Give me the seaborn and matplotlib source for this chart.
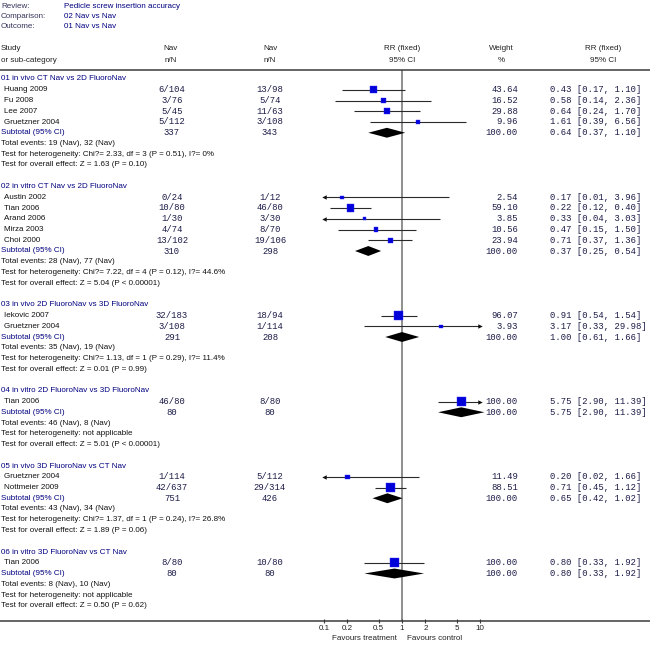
import numpy as np
import pandas as pd
import matplotlib
matplotlib.use("Agg")
import matplotlib.pyplot as plt
import matplotlib.transforms as mtransforms
import seaborn as sns

# ---------------- data ----------------
group_titles = [
    "01 in vivo CT Nav vs 2D FluoroNav",
    "02 in vitro CT Nav vs 2D FluoroNav",
    "03 in vivo 2D FluoroNav vs 3D FluoroNav",
    "04 in vitro 2D FluoroNav vs 3D FluoroNav",
    "05 in vivo 3D FluoroNav vs CT Nav",
    "06 in vitro 3D FluoroNav vs CT Nav",
]
study_names = ["Huang 2009", "Fu 2008", "Lee 2007", "Gruetzner 2004",
               "Austin 2002", "Tian 2006", "Arand 2006", "Mirza 2003", "Choi 2000",
               "Iekovic 2007", "Gruetzner 2004",
               "Tian 2006",
               "Gruetzner 2004", "Nottmeier 2009",
               "Tian 2006"]
study_group = [0, 0, 0, 0, 1, 1, 1, 1, 1, 2, 2, 3, 4, 4, 5]
events_1 = [6, 3, 5, 5, 0, 10, 1, 4, 13, 32, 3, 46, 1, 42, 8]
totals_1 = [104, 76, 45, 112, 24, 80, 30, 74, 102, 183, 108, 80, 114, 637, 80]
events_2 = [13, 5, 11, 3, 1, 46, 3, 8, 19, 18, 1, 8, 5, 29, 10]
totals_2 = [98, 74, 63, 108, 12, 80, 30, 70, 106, 94, 114, 80, 112, 314, 80]
weights = [43.64, 16.52, 29.88, 9.96, 2.54, 59.10, 3.85, 10.56, 23.94,
           96.07, 3.93, 100.00, 11.49, 88.51, 100.00]
rr = [0.43, 0.58, 0.64, 1.61, 0.17, 0.22, 0.33, 0.47, 0.71, 0.91, 3.17, 5.75, 0.20, 0.71, 0.80]
rr_lo = [0.17, 0.14, 0.24, 0.39, 0.01, 0.12, 0.04, 0.15, 0.37, 0.54, 0.33, 2.90, 0.02, 0.45, 0.33]
rr_hi = [1.10, 2.36, 1.70, 6.56, 3.96, 0.40, 3.03, 1.50, 1.36, 1.54, 29.98, 11.39, 1.66, 1.12, 1.92]

sub_n1 = [337, 310, 291, 80, 751, 80]
sub_n2 = [343, 298, 208, 80, 426, 80]
sub_rr = [0.64, 0.37, 1.00, 5.75, 0.65, 0.80]
sub_lo = [0.37, 0.25, 0.61, 2.90, 0.42, 0.33]
sub_hi = [1.10, 0.54, 1.66, 11.39, 1.02, 1.92]
sub_ev1 = [19, 28, 35, 46, 43, 8]
sub_ev2 = [32, 77, 19, 8, 34, 10]
het_text = ["Chi?= 2.33, df = 3 (P = 0.51), I?= 0%",
            "Chi?= 7.22, df = 4 (P = 0.12), I?= 44.6%",
            "Chi?= 1.13, df = 1 (P = 0.29), I?= 11.4%",
            "not applicable",
            "Chi?= 1.37, df = 1 (P = 0.24), I?= 26.8%",
            "not applicable"]
overall_text = ["Z = 1.63 (P = 0.10)", "Z = 5.04 (P < 0.00001)", "Z = 0.01 (P = 0.99)",
                "Z = 5.01 (P < 0.00001)", "Z = 1.89 (P = 0.06)", "Z = 0.50 (P = 0.62)"]

x_ticks = [0.1, 0.2, 0.5, 1, 2, 5, 10]
x_tick_labels = ["0.1", "0.2", "0.5", "1", "2", "5", "10"]

# ---------------- layout of rows ----------------
rows = []  # (kind, index, row)
r = 0
study_rows = [0] * len(study_names)
sub_rows = [0] * len(group_titles)
header_rows = [0] * len(group_titles)
text_rows = [[0, 0, 0] for _ in group_titles]
for g in range(len(group_titles)):
    header_rows[g] = r
    r += 1
    for i, sg in enumerate(study_group):
        if sg == g:
            study_rows[i] = r
            r += 1
    sub_rows[g] = r
    r += 1
    for k in range(3):
        text_rows[g][k] = r
        r += 1
    r += 1  # blank line

W, H = 650, 645
SANS = "Liberation Sans"
MONO = "Liberation Mono"
FS = 5.8
FM = 6.4
NAVY = "#000080"
NUMC = "#1c1c48"

fig = plt.figure(figsize=(6.5, 6.45), dpi=100)
fig.patch.set_facecolor("white")

top_px, bot_px = 69.5, 621.0
row0_px, row_step = 79.0, 10.75
ax = fig.add_axes([0, (H - bot_px) / H, 1, (bot_px - top_px) / H])
ax.set_facecolor("white")
ax.set_xscale("log")
ax.set_xlim(10 ** (-402 / 78), 10 ** (248 / 78))
ax.set_ylim((bot_px - row0_px) / row_step, (top_px - row0_px) / row_step)

for s in ["left", "right"]:
    ax.spines[s].set_visible(False)
for s in ["top", "bottom"]:
    ax.spines[s].set_color("#3a3a3a")
    ax.spines[s].set_linewidth(1.1)
ax.set_yticks([])
ax.xaxis.set_minor_locator(matplotlib.ticker.NullLocator())
ax.set_xticks(x_ticks)
ax.set_xticklabels(x_tick_labels, fontsize=FS, family=SANS, color="#222222")
ax.tick_params(axis="x", direction="inout", length=3, width=0.8, color="#3a3a3a", pad=1.5)

# line of no effect
ax.axvline(1, color="#707070", lw=1.1, zorder=1)

LO, HI = 0.1, 10
# CI lines with arrows where clipped
for i in range(len(study_names)):
    lo = max(rr_lo[i], LO)
    hi = min(rr_hi[i], HI)
    y = study_rows[i]
    ax.plot([lo, hi], [y, y], color="#2a2a2a", lw=0.8, zorder=2, solid_capstyle="butt")
    if rr_lo[i] < LO:
        ax.plot([LO], [y], marker="<", color="#111111", ms=3.2, mew=0, zorder=3)
    if rr_hi[i] > HI:
        ax.plot([HI], [y], marker=">", color="#111111", ms=3.2, mew=0, zorder=3)

# squares sized by weight
df = pd.DataFrame({"rr": rr, "row": study_rows, "weight": weights})
sns.scatterplot(data=df, x="rr", y="row", size="weight", sizes=(5, 46), marker="s",
                color="#0000d8", edgecolor="#3030ff", linewidth=0.3, legend=False,
                ax=ax, zorder=4)
ax.set_xlabel("")
ax.set_ylabel("")

# diamonds for subtotals
for g in range(len(group_titles)):
    y = sub_rows[g]
    h = 0.46
    ax.fill([sub_lo[g], sub_rr[g], sub_hi[g], sub_rr[g]], [y, y - h, y, y + h],
            color="black", lw=0, zorder=4)

# ---------------- text columns ----------------
tr = ax.get_yaxis_transform()


def px(x):
    return x / W


for g in range(len(group_titles)):
    ax.text(px(1), header_rows[g], group_titles[g], transform=tr, fontsize=FS,
            family=SANS, color=NAVY, va="center", ha="left")
    ax.text(px(1), sub_rows[g], "Subtotal (95% CI)", transform=tr, fontsize=FS,
            family=SANS, color=NAVY, va="center", ha="left")
    ax.text(px(172), sub_rows[g], f"{sub_n1[g]}", transform=tr, fontsize=FM,
            family=MONO, color=NUMC, va="center", ha="center")
    ax.text(px(270), sub_rows[g], f"{sub_n2[g]}", transform=tr, fontsize=FM,
            family=MONO, color=NUMC, va="center", ha="center")
    ax.text(px(518), sub_rows[g], "100.00", transform=tr, fontsize=FM,
            family=MONO, color=NUMC, va="center", ha="right")
    ax.text(px(550), sub_rows[g], f"{sub_rr[g]:.2f} [{sub_lo[g]:.2f}, {sub_hi[g]:.2f}]",
            transform=tr, fontsize=FM, family=MONO, color=NUMC, va="center", ha="left")
    lines = [f"Total events: {sub_ev1[g]} (Nav), {sub_ev2[g]} (Nav)",
             f"Test for heterogeneity: {het_text[g]}",
             f"Test for overall effect: {overall_text[g]}"]
    for k in range(3):
        ax.text(px(1), text_rows[g][k], lines[k], transform=tr, fontsize=FS,
                family=SANS, color="#111111", va="center", ha="left")

for i in range(len(study_names)):
    y = study_rows[i]
    ax.text(px(4), y, study_names[i], transform=tr, fontsize=FS, family=SANS,
            color="#111111", va="center", ha="left")
    ax.text(px(172), y, f"{events_1[i]}/{totals_1[i]}", transform=tr, fontsize=FM,
            family=MONO, color=NUMC, va="center", ha="center")
    ax.text(px(270), y, f"{events_2[i]}/{totals_2[i]}", transform=tr, fontsize=FM,
            family=MONO, color=NUMC, va="center", ha="center")
    ax.text(px(518), y, f"{weights[i]:.2f}", transform=tr, fontsize=FM,
            family=MONO, color=NUMC, va="center", ha="right")
    ax.text(px(550), y, f"{rr[i]:.2f} [{rr_lo[i]:.2f}, {rr_hi[i]:.2f}]", transform=tr,
            fontsize=FM, family=MONO, color=NUMC, va="center", ha="left")

# ---------------- header ----------------


def ftext(x, y, s, **kw):
    kw.setdefault("fontsize", FS)
    kw.setdefault("family", SANS)
    kw.setdefault("va", "center")
    fig.text(x / W, 1 - y / H, s, **kw)


for y, lab, val in [(6, "Review:", "Pedicle screw insertion accuracy"),
                    (16, "Comparison:", "02 Nav vs Nav"),
                    (26.5, "Outcome:", "01 Nav vs Nav")]:
    ftext(1, y, lab, color="#33335a", ha="left")
    ftext(64, y, val, color=NAVY, ha="left")

ftext(1, 49, "Study", color="#222222", ha="left")
ftext(1, 60, "or sub-category", color="#222222", ha="left")
for cx, a, b in [(171, "Nav", "n/N"), (270, "Nav", "n/N"), (402, "RR (fixed)", "95% CI"),
                 (501, "Weight", "%"), (603, "RR (fixed)", "95% CI")]:
    ftext(cx, 49, a, color="#222222", ha="center")
    ftext(cx, 60, b, color="#222222", ha="center")

# favours labels around the line of no effect
bt = mtransforms.blended_transform_factory(ax.transData, fig.transFigure)
ax.text(0.86, 1 - 638 / H, "Favours treatment", transform=bt, fontsize=FS, family=SANS,
        color="#222222", ha="right", va="center")
ax.text(1.17, 1 - 638 / H, "Favours control", transform=bt, fontsize=FS, family=SANS,
        color="#222222", ha="left", va="center")

fig.savefig("out.png", dpi=100, facecolor="white")
